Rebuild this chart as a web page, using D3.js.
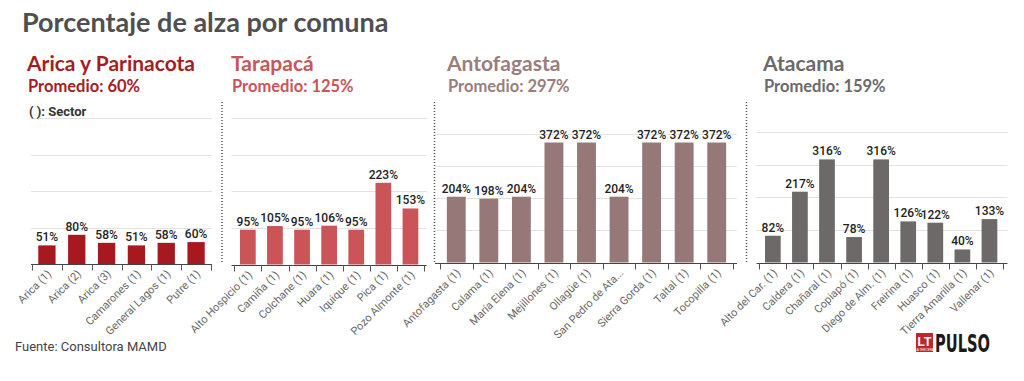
<!DOCTYPE html>
<html><head><meta charset="utf-8">
<script src="https://cdn.jsdelivr.net/npm/d3@7/dist/d3.min.js"></script>
<style>
html,body{margin:0;padding:0;background:#fff;}
svg{display:block;}
</style></head>
<body>
<svg id="chart" width="1024" height="381"></svg>
<script>
// ---- Data ----
const regionNames = ["Arica y Parinacota", "Tarapacá", "Antofagasta", "Atacama"];
const regionAverages = ["Promedio: 60%", "Promedio: 125%", "Promedio: 297%", "Promedio: 159%"];

const comunasArica = ["Arica (1)", "Arica (2)", "Arica (3)", "Camarones (1)", "General Lagos (1)", "Putre (1)"];
const valuesArica = [51, 80, 58, 51, 58, 60];

const comunasTarapaca = ["Alto Hospicio (1)", "Camiña (1)", "Colchane (1)", "Huara (1)", "Iquique (1)", "Pica (1)", "Pozo Almonte (1)"];
const valuesTarapaca = [95, 105, 95, 106, 95, 223, 153];

const comunasAntofagasta = ["Antofagasta (1)", "Calama (1)", "María Elena (1)", "Mejillones (1)", "Ollagüe (1)", "San Pedro de Ata...", "Sierra Gorda (1)", "Taltal (1)", "Tocopilla (1)"];
const valuesAntofagasta = [204, 198, 204, 372, 372, 204, 372, 372, 372];

const comunasAtacama = ["Alto del Car. (1)", "Caldera (1)", "Chañaral (1)", "Copiapó (1)", "Diego de Alm. (1)", "Freirina (1)", "Huasco (1)", "Tierra Amarilla (1)", "Vallenar (1)"];
const valuesAtacama = [82, 217, 316, 78, 316, 126, 122, 40, 133];

const yTicks = [100, 200, 300, 400];

// ---- Layout / style ----
const svg = d3.select("#chart");

svg.append("text").attr("x", 22).attr("y", 32)
  .attr("font-family", "Lato").attr("font-weight", 700).attr("font-size", 27)
  .attr("fill", "#4f4f4f").text("Porcentaje de alza por comuna");

const panels = [
  {cats: comunasArica, vals: valuesArica, x0: 32, x1: 211, gx0: 31, gx1: 212, yb: 264, yt: 118,
   tx: 27, titleColor: "#a51d22", barColor: "#a8191f"},
  {cats: comunasTarapaca, vals: valuesTarapaca, x0: 234.3, x1: 424, gx0: 231.5, gx1: 426.5, yb: 264.5, yt: 118,
   tx: 231, titleColor: "#c9555a", barColor: "#cb5458"},
  {cats: comunasAntofagasta, vals: valuesAntofagasta, x0: 440, x1: 733, gx0: 435, gx1: 737, yb: 262.5, yt: 133.5,
   tx: 447, titleColor: "#9a7d7d", barColor: "#977878"},
  {cats: comunasAtacama, vals: valuesAtacama, x0: 759.3, x1: 1003, gx0: 756.5, gx1: 1007.5, yb: 262.5, yt: 132,
   tx: 763, titleColor: "#6b6969", barColor: "#6d6969"}
];

panels.forEach((p, i) => {
  const g = svg.append("g");
  // titles
  g.append("text").attr("x", p.tx).attr("y", 71)
    .attr("font-family", "Lato").attr("font-weight", 700).attr("font-size", 21)
    .attr("fill", p.titleColor).text(regionNames[i]);
  g.append("text").attr("x", p.tx + 1).attr("y", 91.5)
    .attr("font-family", "Lato").attr("font-weight", 700).attr("font-size", 16.5)
    .attr("fill", p.titleColor).text(regionAverages[i]);

  const x = d3.scaleBand().domain(p.cats).range([p.x0, p.x1]).paddingInner(0.42).paddingOuter(0.21);
  const y = d3.scaleLinear().domain([0, 400]).range([p.yb, p.yt]);

  // gridlines
  g.selectAll(".grid").data(yTicks).join("line")
    .attr("x1", p.gx0).attr("x2", p.gx1)
    .attr("y1", d => Math.round(y(d)) + 0.5).attr("y2", d => Math.round(y(d)) + 0.5)
    .attr("stroke", "#e2e2e2").attr("stroke-width", 1);

  // bars
  g.selectAll(".bar").data(p.vals).join("rect")
    .attr("x", (d, j) => x(p.cats[j]))
    .attr("width", x.bandwidth())
    .attr("y", d => y(d))
    .attr("height", d => y(0) - y(d))
    .attr("fill", p.barColor);

  // value labels
  g.selectAll(".val").data(p.vals).join("text")
    .attr("x", (d, j) => x(p.cats[j]) + x.bandwidth() / 2)
    .attr("y", d => y(d) - 4)
    .attr("text-anchor", "middle")
    .attr("font-family", "Roboto").attr("font-weight", 500).attr("font-size", 12)
    .attr("fill", "#222").text(d => d + "%");

  // baseline
  const by = Math.round(y(0)) + 0.5;
  g.append("line").attr("x1", p.gx0).attr("x2", p.gx1).attr("y1", by).attr("y2", by)
    .attr("stroke", "#444").attr("stroke-width", 1);
  // ticks at band boundaries
  const step = x.step();
  const tickPos = d3.range(p.cats.length + 1).map(k => p.x0 + k * step);
  g.selectAll(".tick").data(tickPos).join("line")
    .attr("x1", d => Math.round(d) + 0.5).attr("x2", d => Math.round(d) + 0.5)
    .attr("y1", by).attr("y2", by + 6)
    .attr("stroke", "#555").attr("stroke-width", 1);

  // category labels
  g.selectAll(".lab").data(p.cats).join("text")
    .attr("transform", d => `translate(${x(d) + x.bandwidth() / 2 + 5},${by + 10}) rotate(-45)`)
    .attr("text-anchor", "end")
    .attr("font-family", "Roboto").attr("font-size", 11)
    .attr("fill", "#666").text(d => d);
});

svg.append("text").attr("x", 29).attr("y", 115.5)
  .attr("font-family", "Roboto").attr("font-weight", 700).attr("font-size", 13)
  .attr("fill", "#333").text("( ): Sector");

// dividers
[222, 434.5, 746.5].forEach(dx => {
  svg.append("line").attr("x1", dx).attr("x2", dx).attr("y1", 102).attr("y2", 263)
    .attr("stroke", "#555").attr("stroke-width", 1.5).attr("stroke-dasharray", "1,2");
});

// source
svg.append("text").attr("x", 15).attr("y", 351)
  .attr("font-family", "Roboto").attr("font-size", 13)
  .attr("fill", "#444").text("Fuente: Consultora MAMD");

// logo
const lg = svg.append("g");
lg.append("rect").attr("x", 916).attr("y", 333).attr("width", 17).attr("height", 19).attr("fill", "#c0272d");
lg.append("text").attr("x", 924.5).attr("y", 346).attr("text-anchor", "middle")
  .attr("font-family", "Liberation Sans").attr("font-weight", 700).attr("font-size", 12)
  .attr("fill", "#fff").text("LT");
lg.append("text").attr("x", 924.5).attr("y", 351).attr("text-anchor", "middle")
  .attr("font-family", "Liberation Sans").attr("font-size", 3)
  .attr("fill", "#fff").text("LA TERCERA");
lg.append("text").attr("x", 935).attr("y", 352)
  .attr("font-family", "Liberation Sans Narrow, DejaVu Sans Condensed, Liberation Sans").attr("font-weight", 700).attr("font-size", 25)
  .attr("textLength", 55).attr("lengthAdjust", "spacingAndGlyphs")
  .attr("fill", "#1a1a1a").text("PULSO");
</script>
</body></html>
